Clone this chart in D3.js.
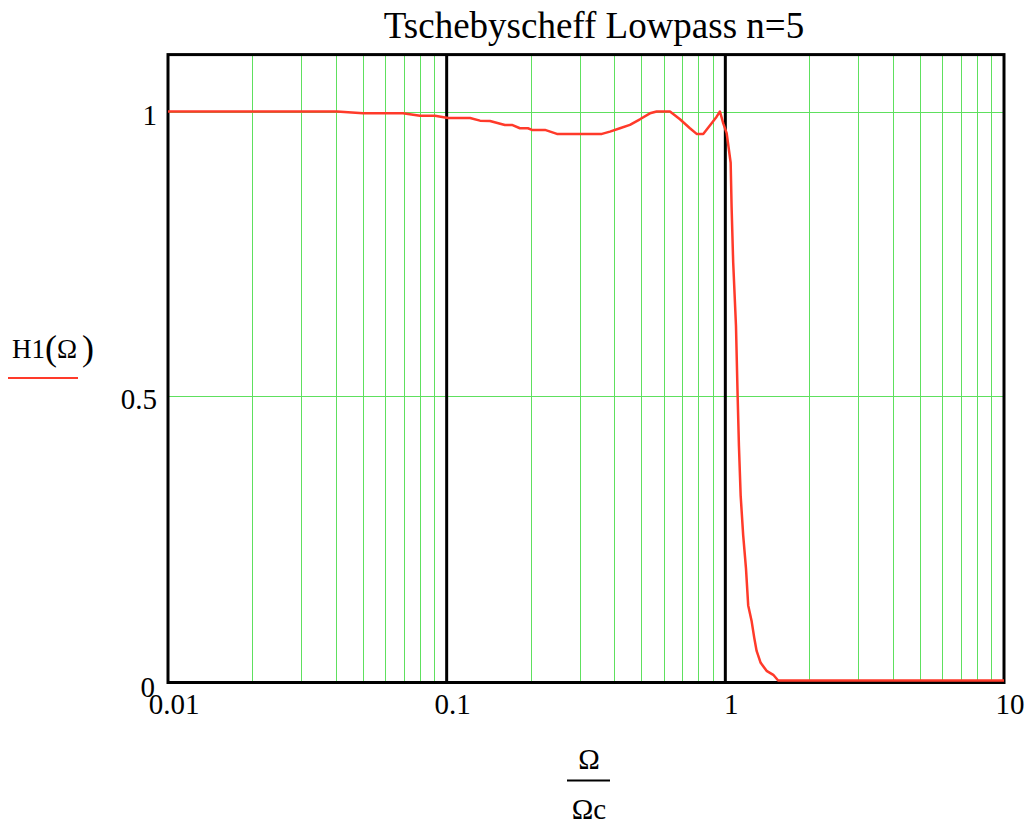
<!DOCTYPE html>
<html>
<head>
<meta charset="utf-8">
<script src="https://cdn.jsdelivr.net/npm/d3@7"></script>
<style>
  body { margin: 0; background: #fff; }
  text { font-family: "Liberation Serif", "Times New Roman", serif; fill: #000; }
</style>
</head>
<body>
<div id="chart"></div>
<script>
// data
var omega = [0.01, 0.0404, 0.0501, 0.0697, 0.0802, 0.0908, 0.1011, 0.1213, 0.1317, 0.143,
             0.1618, 0.1715, 0.1832, 0.1957, 0.2023, 0.2253, 0.2487, 0.3607, 0.3855, 0.4185,
             0.4546, 0.4937, 0.5364, 0.5669, 0.6328, 0.6874, 0.7464, 0.7889, 0.8331, 0.8929,
             0.9307, 0.9563, 0.983, 1.011, 1.045, 1.053, 1.067, 1.092, 1.107, 1.119,
             1.135, 1.159, 1.186, 1.208, 1.243, 1.27, 1.295, 1.339, 1.406, 1.486,
             1.547, 10];
var h1 = [1.0, 1.0, 0.9968, 0.9968, 0.9926, 0.9926, 0.9886, 0.9886, 0.9839, 0.9834,
          0.9764, 0.9764, 0.9706, 0.9706, 0.9676, 0.9676, 0.9606, 0.9606, 0.9646, 0.9706,
          0.9764, 0.9863, 0.9968, 1.0, 1.0, 0.9863, 0.9706, 0.9606, 0.9606, 0.9793,
          0.9909, 1.0, 0.979, 0.962, 0.91, 0.833, 0.735, 0.623, 0.5, 0.412,
          0.325, 0.255, 0.197, 0.132, 0.104, 0.075, 0.052, 0.031, 0.017, 0.01,
          0.0, 0.0];
var xTicks = [0.01, 0.1, 1, 10];
var xTickLabels = ["0.01", "0.1", "1", "10"];
var yTicks = [0, 0.5, 1];
var yTickLabels = ["0", "0.5", "1"];

var width = 1029, height = 819;
var plotLeft = 168, plotRight = 1004, plotTop = 54.6, plotBottom = 682.5;

var svg = d3.select("#chart").append("svg")
    .attr("width", width)
    .attr("height", height);

var x = d3.scaleLog().domain([0.01, 10]).range([plotLeft, plotRight]);
// zero sits just above the frame's bottom edge, like the original
var y = d3.scaleLinear().domain([0, 1.1]).range([680.5, plotTop]);

var green = "#5ee05e";

// minor vertical grid (2..9 in each decade)
var minor = x.ticks().filter(function (d) {
    var m = d / Math.pow(10, Math.floor(Math.log10(d) + 1e-9));
    return Math.round(m) !== 1;
});
svg.append("g")
    .selectAll("line")
    .data(minor)
    .enter().append("line")
    .attr("x1", function (d) { return Math.round(x(d)) + 0.5; })
    .attr("x2", function (d) { return Math.round(x(d)) + 0.5; })
    .attr("y1", plotTop)
    .attr("y2", plotBottom)
    .attr("stroke", green)
    .attr("stroke-width", 1);

// horizontal grid
svg.append("g")
    .selectAll("line")
    .data([0.5, 1])
    .enter().append("line")
    .attr("x1", plotLeft)
    .attr("x2", plotRight)
    .attr("y1", function (d) { return Math.round(y(d)) + 0.5; })
    .attr("y2", function (d) { return Math.round(y(d)) + 0.5; })
    .attr("stroke", green)
    .attr("stroke-width", 1);

// decade lines
svg.append("g")
    .selectAll("line")
    .data([0.1, 1])
    .enter().append("line")
    .attr("x1", function (d) { return x(d); })
    .attr("x2", function (d) { return x(d); })
    .attr("y1", plotTop)
    .attr("y2", plotBottom)
    .attr("stroke", "#000")
    .attr("stroke-width", 3);

// frame
svg.append("rect")
    .attr("x", plotLeft)
    .attr("y", plotTop)
    .attr("width", plotRight - plotLeft)
    .attr("height", plotBottom - plotTop)
    .attr("fill", "none")
    .attr("stroke", "#000")
    .attr("stroke-width", 3);

// curve
var pts = omega.map(function (d, i) { return [d, h1[i]]; });
var line = d3.line()
    .x(function (d) { return x(d[0]); })
    .y(function (d) { return y(d[1]); });

svg.append("path")
    .datum(pts)
    .attr("d", line)
    .attr("fill", "none")
    .attr("stroke", "#ff3a2a")
    .attr("stroke-width", 2.5)
    .attr("stroke-linejoin", "round");

// tick labels
svg.append("g")
    .selectAll("text")
    .data(xTicks)
    .enter().append("text")
    .attr("x", function (d) { return x(d) + 6; })
    .attr("y", 714)
    .attr("text-anchor", "middle")
    .style("font-size", "29px")
    .text(function (d, i) { return xTickLabels[i]; });

svg.append("g")
    .selectAll("text")
    .data(yTicks)
    .enter().append("text")
    .attr("x", function (d) { return d === 0 ? 155 : 157; })
    .attr("y", function (d) { return d === 0 ? 697 : y(d) + 13; })
    .attr("text-anchor", "end")
    .style("font-size", "29px")
    .text(function (d, i) { return yTickLabels[i]; });

// title
svg.append("text")
    .attr("x", 594)
    .attr("y", 38)
    .attr("text-anchor", "middle")
    .style("font-size", "37px")
    .text("Tschebyscheff Lowpass n=5");

// y axis label with legend line
var yl = svg.append("text")
    .attr("x", 12)
    .attr("y", 358)
    .style("font-size", "27px");
yl.append("tspan").text("H1");
yl.append("tspan").style("font-size", "36px").attr("dy", 2).text("(");
yl.append("tspan").attr("dy", -2).text("Ω");
yl.append("tspan").style("font-size", "36px").attr("dx", 5).attr("dy", 2).text(")");

svg.append("line")
    .attr("x1", 8)
    .attr("x2", 78)
    .attr("y1", 378)
    .attr("y2", 378)
    .attr("stroke", "#ff3a2a")
    .attr("stroke-width", 2);

// x axis label as fraction
svg.append("text")
    .attr("x", 589)
    .attr("y", 769)
    .attr("text-anchor", "middle")
    .style("font-size", "29px")
    .text("Ω");
svg.append("line")
    .attr("x1", 567)
    .attr("x2", 610)
    .attr("y1", 780.5)
    .attr("y2", 780.5)
    .attr("stroke", "#000")
    .attr("stroke-width", 2);
svg.append("text")
    .attr("x", 589)
    .attr("y", 819)
    .attr("text-anchor", "middle")
    .style("font-size", "29px")
    .text("Ωc");
</script>
</body>
</html>
